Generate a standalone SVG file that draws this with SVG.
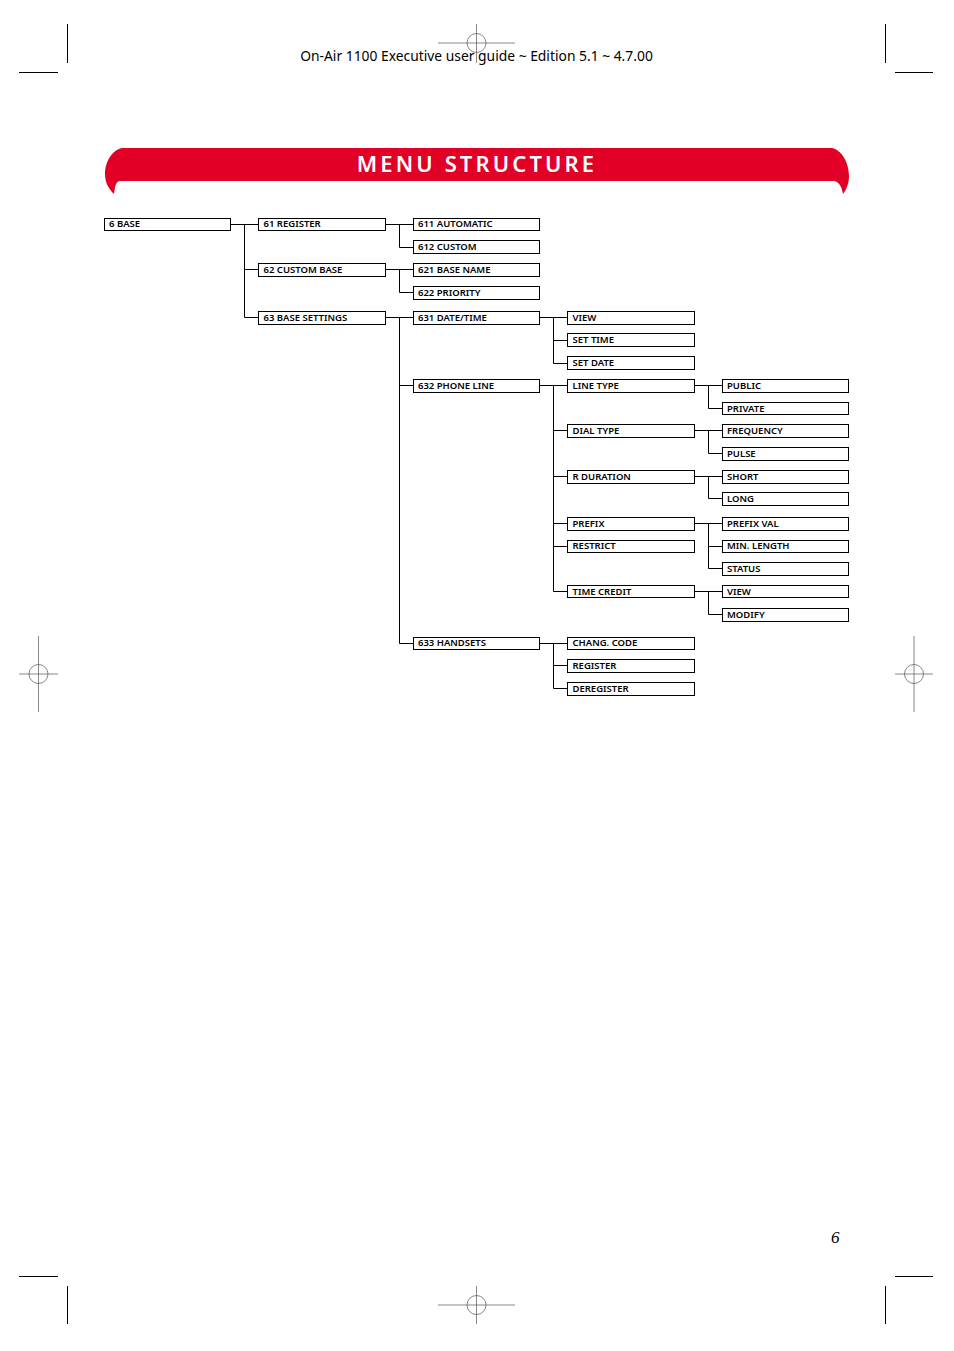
<svg xmlns="http://www.w3.org/2000/svg" width="954" height="1351" viewBox="0 0 954 1351">
<style>
.b{fill:#fff;stroke:#000;stroke-width:1}
.l{font:600 9.5px "Noto Sans",sans-serif;fill:#000}
.c{fill:none;stroke:#000;stroke-width:1}
.m{fill:none;stroke:#000;stroke-width:1}
.r{fill:none;stroke:#555;stroke-width:.7}
</style>
<rect width="954" height="1351" fill="#fff"/>
<g id="crop-marks">
<path class="m" d="M67.500 24V63M19 72.500H58M885.500 24V63M895 72.500H933M19 1276.500H58M67.500 1286V1324M895 1276.500H933M885.500 1286V1324"/>
<g class="r"><circle cx="476.500" cy="43" r="9.500"/><path d="M476.500 24V63M438 43H515"/>
<circle cx="476.500" cy="1305" r="9.500"/><path d="M476.500 1286V1324M438 1305H515"/>
<circle cx="38.500" cy="674" r="9.500"/><path d="M38.500 636V712M19 674H58"/>
<circle cx="914" cy="674" r="9.500"/><path d="M914 636V712M895 674H933"/></g>
</g>
<text x="476.500" y="61" text-anchor="middle" font-family="Noto Sans, sans-serif" font-size="13.850">On-Air 1100 Executive user guide ~ Edition 5.1 ~ 4.7.00</text>
<g id="banner">
<path fill="#e30026" d="M122 148H832C842 150 849 163 849 176C849 184 846 190 843 194C842 188 840 183 835 181H119C115 183 115 188 114 194C110 190 105 184 105 174C105 162 112 150 122 148Z"/>
<text x="477" y="171.500" text-anchor="middle" font-family="Noto Sans, sans-serif" font-size="22" font-weight="600" letter-spacing="3.100" fill="#fff">MENU STRUCTURE</text>
</g>
<g id="connectors">
<path class="c" d="M230 224.500H258M244.500 224.500V317.500H258M244.500 269.500H258"/>
<path class="c" d="M385 224.500H413M399.500 224.500V247.500H413"/>
<path class="c" d="M385 269.500H413M399.500 269.500V292.500H413"/>
<path class="c" d="M385 317.500H413M399.500 317.500V643.500H413M399.500 385.500H413"/>
<path class="c" d="M539 317.500H567M553.500 317.500V363.500H567M553.500 340.500H567"/>
<path class="c" d="M539 385.500H567M553.500 385.500V591.500H567M553.500 430.500H567M553.500 476.500H567M553.500 523.500H567M553.500 546.500H567"/>
<path class="c" d="M539 643.500H567M553.500 643.500V688.500H567M553.500 665.500H567"/>
<path class="c" d="M694 385.500H722M708.500 385.500V408.500H722"/>
<path class="c" d="M694 430.500H722M708.500 430.500V453.500H722"/>
<path class="c" d="M694 476.500H722M708.500 476.500V498.500H722"/>
<path class="c" d="M694 523.500H722M708.500 523.500V568.500H722M708.500 546.500H722"/>
<path class="c" d="M694 591.500H722M708.500 591.500V614.500H722"/>
</g>
<g id="n6"><rect class="b" x="104.500" y="218.500" width="126" height="12"/><text class="l" x="109" y="227">6 BASE</text></g>
<g id="n61"><rect class="b" x="258.500" y="218.500" width="127" height="12"/><text class="l" x="263.500" y="227">61 REGISTER</text></g>
<g id="n62"><rect class="b" x="258.500" y="263.500" width="127" height="13"/><text class="l" x="263.500" y="273">62 CUSTOM BASE</text></g>
<g id="n63"><rect class="b" x="258.500" y="311.500" width="127" height="13"/><text class="l" x="263.500" y="321">63 BASE SETTINGS</text></g>
<g id="n611"><rect class="b" x="413.500" y="218.500" width="126" height="12"/><text class="l" x="418" y="227">611 AUTOMATIC</text></g>
<g id="n612"><rect class="b" x="413.500" y="240.500" width="126" height="13"/><text class="l" x="418" y="250">612 CUSTOM</text></g>
<g id="n621"><rect class="b" x="413.500" y="263.500" width="126" height="13"/><text class="l" x="418" y="273">621 BASE NAME</text></g>
<g id="n622"><rect class="b" x="413.500" y="286.500" width="126" height="13"/><text class="l" x="418" y="296">622 PRIORITY</text></g>
<g id="n631"><rect class="b" x="413.500" y="311.500" width="126" height="13"/><text class="l" x="418" y="321">631 DATE/TIME</text></g>
<g id="n632"><rect class="b" x="413.500" y="379.500" width="126" height="13"/><text class="l" x="418" y="389">632 PHONE LINE</text></g>
<g id="n633"><rect class="b" x="413.500" y="637.500" width="126" height="12"/><text class="l" x="418" y="646">633 HANDSETS</text></g>
<g id="n6311"><rect class="b" x="567.500" y="311.500" width="127" height="13"/><text class="l" x="572.500" y="321">VIEW</text></g>
<g id="n6312"><rect class="b" x="567.500" y="333.500" width="127" height="13"/><text class="l" x="572.500" y="343">SET TIME</text></g>
<g id="n6313"><rect class="b" x="567.500" y="356.500" width="127" height="13"/><text class="l" x="572.500" y="366">SET DATE</text></g>
<g id="n6321"><rect class="b" x="567.500" y="379.500" width="127" height="13"/><text class="l" x="572.500" y="389">LINE TYPE</text></g>
<g id="n6322"><rect class="b" x="567.500" y="424.500" width="127" height="13"/><text class="l" x="572.500" y="434">DIAL TYPE</text></g>
<g id="n6323"><rect class="b" x="567.500" y="470.500" width="127" height="13"/><text class="l" x="572.500" y="480">R DURATION</text></g>
<g id="n6324"><rect class="b" x="567.500" y="517.500" width="127" height="13"/><text class="l" x="572.500" y="527">PREFIX</text></g>
<g id="n6325"><rect class="b" x="567.500" y="540.500" width="127" height="12"/><text class="l" x="572.500" y="549">RESTRICT</text></g>
<g id="n6326"><rect class="b" x="567.500" y="585.500" width="127" height="12"/><text class="l" x="572.500" y="595">TIME CREDIT</text></g>
<g id="n6331"><rect class="b" x="567.500" y="637.500" width="127" height="12"/><text class="l" x="572.500" y="646">CHANG. CODE</text></g>
<g id="n6332"><rect class="b" x="567.500" y="659.500" width="127" height="13"/><text class="l" x="572.500" y="669">REGISTER</text></g>
<g id="n6333"><rect class="b" x="567.500" y="682.500" width="127" height="13"/><text class="l" x="572.500" y="692">DEREGISTER</text></g>
<g id="public"><rect class="b" x="722.500" y="379.500" width="126" height="13"/><text class="l" x="727" y="389">PUBLIC</text></g>
<g id="private"><rect class="b" x="722.500" y="402.500" width="126" height="12"/><text class="l" x="727" y="412">PRIVATE</text></g>
<g id="frequency"><rect class="b" x="722.500" y="424.500" width="126" height="13"/><text class="l" x="727" y="434">FREQUENCY</text></g>
<g id="pulse"><rect class="b" x="722.500" y="447.500" width="126" height="13"/><text class="l" x="727" y="457">PULSE</text></g>
<g id="short"><rect class="b" x="722.500" y="470.500" width="126" height="13"/><text class="l" x="727" y="480">SHORT</text></g>
<g id="long"><rect class="b" x="722.500" y="492.500" width="126" height="13"/><text class="l" x="727" y="502">LONG</text></g>
<g id="prefixval"><rect class="b" x="722.500" y="517.500" width="126" height="13"/><text class="l" x="727" y="527">PREFIX VAL</text></g>
<g id="minlength"><rect class="b" x="722.500" y="540.500" width="126" height="12"/><text class="l" x="727" y="549">MIN. LENGTH</text></g>
<g id="status"><rect class="b" x="722.500" y="562.500" width="126" height="13"/><text class="l" x="727" y="572">STATUS</text></g>
<g id="view2"><rect class="b" x="722.500" y="585.500" width="126" height="12"/><text class="l" x="727" y="595">VIEW</text></g>
<g id="modify"><rect class="b" x="722.500" y="608.500" width="126" height="13"/><text class="l" x="727" y="618">MODIFY</text></g>
<text x="831" y="1243" font-family="Liberation Serif, serif" font-style="italic" font-size="17">6</text>
</svg>
